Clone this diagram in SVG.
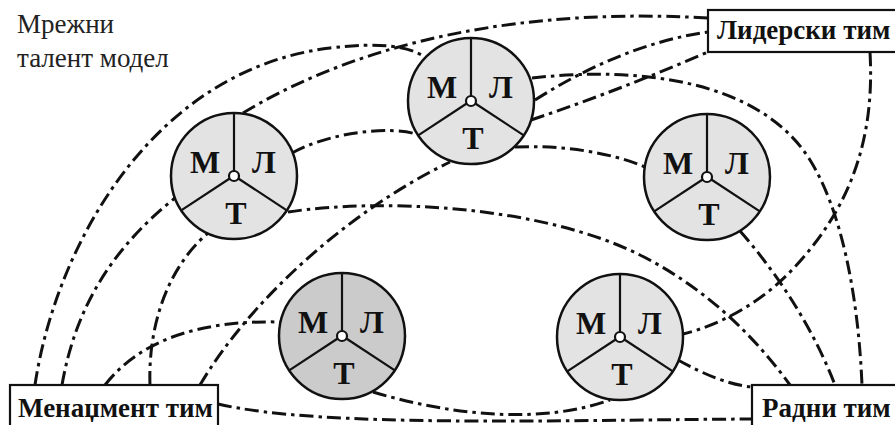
<svg xmlns="http://www.w3.org/2000/svg" width="895" height="425" viewBox="0 0 895 425">
<style>
.bg{fill:#ffffff}
.c{fill:none;stroke:#111;stroke-width:3;stroke-dasharray:14 5 3.5 5}
.disk{fill:#e3e3e3;stroke:#111;stroke-width:2.5}
.dark{fill:#cbcbcb}
.sp{stroke:#111;stroke-width:2.2;fill:none}
.hub{fill:#fff;stroke:#111;stroke-width:2.2}
.nl{font-family:"Liberation Serif","DejaVu Serif",serif;font-weight:bold;font-size:32px;fill:#111;text-anchor:middle}
.box{fill:#fff;stroke:#111;stroke-width:2.2}
.bl{font-family:"Liberation Serif","DejaVu Serif",serif;font-weight:bold;font-size:27px;fill:#111}
.title{font-family:"Liberation Serif","DejaVu Serif",serif;font-size:27px;fill:#222}
</style>
<defs>
<g id="talent">
<line class="sp" x1="0" y1="-5" x2="0" y2="-63"/>
<line class="sp" x1="-4.3" y1="2.5" x2="-52.8" y2="34.3"/>
<line class="sp" x1="4.3" y1="2.5" x2="52.8" y2="34.3"/>
<circle class="hub" cx="0" cy="0" r="5"/>
<text class="nl" x="-29" y="-3">М</text>
<text class="nl" x="30" y="-3">Л</text>
<text class="nl" x="2" y="48">Т</text>
</g>
</defs>
<rect class="bg" x="0" y="0" width="895" height="425"/>
<g id="title">
<text class="title" x="17" y="33">Мрежни</text>
<text class="title" x="17" y="67">талент модел</text>
</g>
<g id="connectors">
<path class="c" d="M35,385 C55,250 150,70 330,48 C380,42 408,46 425,57"/>
<path class="c" d="M243,113 C330,60 480,5 708,18"/>
<path class="c" d="M62,385 C75,310 110,250 175,198"/>
<path class="c" d="M105,385 C140,340 200,320 280,322"/>
<path class="c" d="M150,385 C148,330 165,270 208,233"/>
<path class="c" d="M200,385 C250,300 350,210 450,162"/>
<path class="c" d="M218,404 C320,428 560,420 752,419"/>
<path class="c" d="M292,153 C330,132 390,126 416,134"/>
<path class="c" d="M288,212 C380,198 540,205 640,255 C700,285 750,330 790,385"/>
<path class="c" d="M532,78 C640,66 760,80 810,160 C840,208 858,290 862,385"/>
<path class="c" d="M535,100 C590,65 650,40 708,32"/>
<path class="c" d="M531,120 Q620,90 708,52"/>
<path class="c" d="M515,147 C560,145 610,152 645,167"/>
<path class="c" d="M870,52 C875,140 850,210 790,272 C760,303 720,325 683,334"/>
<path class="c" d="M740,231 C770,265 810,320 835,385"/>
<path class="c" d="M678,360 C705,375 730,385 752,387"/>
<path class="c" d="M373,392 C450,415 540,425 610,400"/>
</g>
<g id="node-top">
<circle class="disk" cx="471" cy="101" r="63"/>
<use href="#talent" x="471" y="101"/>
</g>
<g id="node-upper-left">
<circle class="disk" cx="234" cy="176" r="63"/>
<use href="#talent" x="234" y="176"/>
</g>
<g id="node-upper-right">
<circle class="disk" cx="707" cy="177" r="63"/>
<use href="#talent" x="707" y="177"/>
</g>
<g id="node-lower-left">
<circle class="disk dark" cx="342" cy="336" r="63"/>
<use href="#talent" x="342" y="336"/>
</g>
<g id="node-lower-right">
<circle class="disk" cx="620" cy="337" r="63"/>
<use href="#talent" x="620" y="337"/>
</g>
<g id="leader-team">
<rect class="box" x="708" y="10" width="192" height="42"/>
<text class="bl" x="717" y="39">Лидерски тим</text>
</g>
<g id="management-team">
<rect class="box" x="10" y="385" width="208" height="50"/>
<text class="bl" x="18" y="417">Менаџмент тим</text>
</g>
<g id="work-team">
<rect class="box" x="752" y="385" width="150" height="50"/>
<text class="bl" x="762" y="417">Радни тим</text>
</g>
</svg>
